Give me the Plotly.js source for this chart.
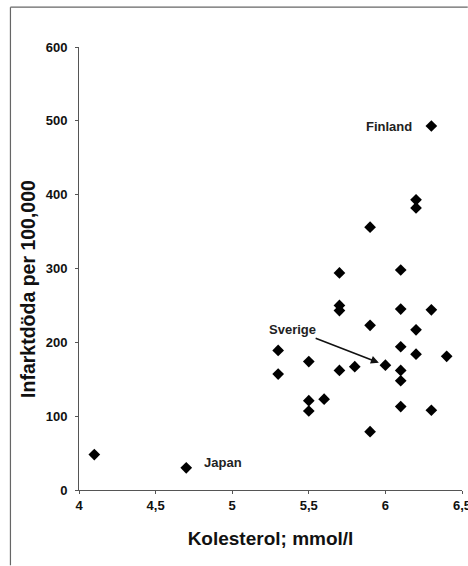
<!DOCTYPE html>
<html>
<head>
<meta charset="utf-8">
<script src="https://cdn.plot.ly/plotly-3.0.1.min.js"></script>
<style>html,body{margin:0;padding:0;background:#fff;overflow:hidden;}#chart{width:468px;height:566px;overflow:hidden;}</style>
</head>
<body>
<div id="chart"></div>
<script>
// Cholesterol (mmol/l) and infarction deaths per 100,000
const cholesterol = [4.1, 4.7, 6.3, 6.2, 6.2, 5.9, 5.7, 6.1, 5.7, 5.7, 6.1, 6.3, 5.9, 6.2, 5.3, 6.1, 6.2, 6.4, 5.5, 5.8, 6.0, 5.7, 6.1, 5.3, 6.1, 5.6, 5.5, 5.5, 6.1, 6.3, 5.9];
const deaths      = [48, 30, 493, 393, 382, 356, 294, 298, 250, 243, 245, 244, 223, 217, 189, 194, 184, 181, 174, 167, 169, 162, 162, 157, 148, 123, 121, 107, 113, 108, 79];

const labelNames = ["Finland", "Japan", "Sverige"];
const labelX = [6.3, 4.7, 6.0];
const labelY = [493, 30, 169];

const xTickVals = [4, 4.5, 5, 5.5, 6, 6.5];
const yTickVals = [0, 100, 200, 300, 400, 500, 600];

const xTitle = "Kolesterol; mmol/l";
const yTitle = "Infarktdöda per 100,000";

const FAMILY = "Liberation Sans, Arial, sans-serif";
const tickFont = {family: FAMILY, size: 13, color: "#111", weight: "bold"};
const titleFont = {family: FAMILY, size: 19, color: "#111", weight: "bold"};
const noteFont = {family: FAMILY, size: 13, color: "#222", weight: "bold"};

const trace = {
  type: "scatter",
  mode: "markers",
  x: cholesterol,
  y: deaths,
  marker: {symbol: "diamond", size: 9, color: "#000"},
  cliponaxis: false,
  hoverinfo: "skip"
};

const annotations = [
  {x: labelX[0], y: labelY[0], text: labelNames[0], showarrow: false, xanchor: "right", yanchor: "middle", xshift: -17, font: noteFont},
  {x: labelX[1], y: labelY[1], text: labelNames[1], showarrow: false, xanchor: "left", yanchor: "middle", xshift: 16, yshift: 5, font: noteFont},
  {x: labelX[2], y: labelY[2], text: labelNames[2], showarrow: true, ax: -93, ay: -36, axref: "pixel", ayref: "pixel",
   arrowhead: 2, arrowsize: 1, arrowwidth: 1.6, arrowcolor: "#111", standoff: 7, font: noteFont},
  {xref: "paper", yref: "paper", x: -0.133, y: 0.454, text: yTitle, textangle: -90, showarrow: false,
   xanchor: "center", yanchor: "middle", font: {family: FAMILY, size: 19.5, color: "#111", weight: "bold"}}
];

const layout = {
  width: 468,
  height: 566,
  margin: {l: 79, r: 6, t: 47, b: 76},
  paper_bgcolor: "#fff",
  plot_bgcolor: "#fff",
  separators: ",.",
  showlegend: false,
  xaxis: {
    range: [4, 6.5],
    tickvals: xTickVals,
    ticks: "outside", ticklen: 3, tickcolor: "#555",
    ticklabeloverflow: "allow",
    showline: true, linecolor: "#555", linewidth: 1,
    showgrid: false, zeroline: false,
    tickfont: tickFont,
    title: {text: xTitle, font: titleFont, standoff: 20}
  },
  yaxis: {
    range: [0, 600],
    tickvals: yTickVals,
    ticks: "outside", ticklen: 3, tickcolor: "#555",
    ticklabelstandoff: 5,
    ticklabeloverflow: "allow",
    showline: true, linecolor: "#555", linewidth: 1,
    showgrid: false, zeroline: false,
    tickfont: tickFont
  },
  annotations: annotations,
  shapes: [
    {type: "line", xref: "paper", yref: "paper", x0: -0.179, x1: -0.179, y0: -0.17, y1: 1.09,
     line: {color: "#666", width: 1.2}},
    {type: "line", xref: "paper", yref: "paper", x0: -0.179, x1: 1.015, y0: 1.09, y1: 1.09,
     line: {color: "#666", width: 1.2}}
  ]
};

Plotly.newPlot("chart", [trace], layout, {staticPlot: true, displayModeBar: false});
</script>
</body>
</html>
